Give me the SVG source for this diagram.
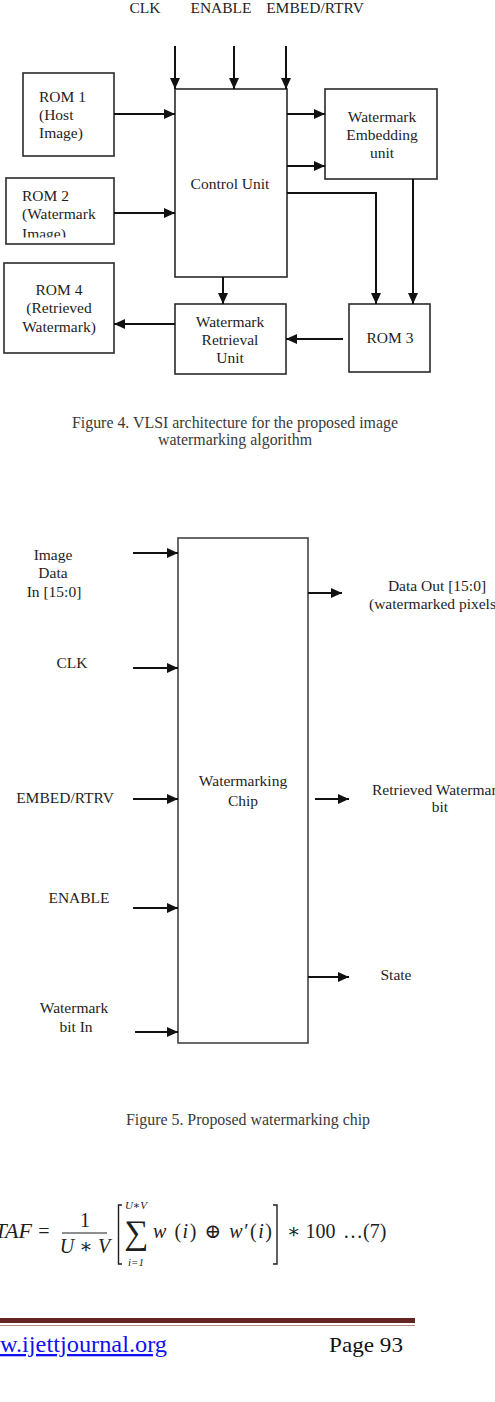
<svg xmlns="http://www.w3.org/2000/svg" width="495" height="1402" viewBox="0 0 495 1402">
<style>
.t{font-family:"Liberation Serif","Times New Roman",serif;font-size:15.5px;fill:#1e1e1e}
.c{font-family:"Liberation Serif","Times New Roman",serif;font-size:16px;fill:#3a3a3a}
.m{font-family:"Liberation Serif","DejaVu Serif",serif;font-size:20px;fill:#1e1e1e}
.i{font-style:italic}
.box{fill:#fff;stroke:#2a2a2a;stroke-width:1.6}
.chip{fill:#fff;stroke:#444;stroke-width:1.6}
.ln{fill:none;stroke:#111;stroke-width:2}
.mid{text-anchor:middle}
</style>
<defs>
<marker id="ah" markerUnits="userSpaceOnUse" markerWidth="12" markerHeight="11" refX="11" refY="5" orient="auto">
<path d="M0,0 L11,5 L0,10 z" fill="#111"/>
</marker>
<clipPath id="rom2clip"><rect x="6" y="178" width="108" height="59.5"/></clipPath>
</defs>
<rect width="495" height="1402" fill="#fff"/>

<!-- Figure 4 -->
<g id="top-labels">
<text class="t mid" x="145" y="13">CLK</text>
<text class="t mid" x="221" y="13">ENABLE</text>
<text class="t mid" x="315" y="13">EMBED/RTRV</text>
</g>
<g id="rom1"><rect class="box" x="23" y="73" width="91" height="83"/>
<text class="t" x="39" y="102">ROM 1</text><text class="t" x="39" y="120">(Host</text><text class="t" x="39" y="138">Image)</text></g>
<g id="rom2"><rect class="box" x="6" y="178" width="108" height="66"/>
<g clip-path="url(#rom2clip)"><text class="t" x="22" y="201">ROM 2</text><text class="t" x="22" y="219">(Watermark</text><text class="t" x="22" y="239">Image)</text></g></g>
<g id="rom4"><rect class="box" x="4" y="263" width="110" height="90"/>
<text class="t mid" x="59" y="295">ROM 4</text><text class="t mid" x="59" y="313">(Retrieved</text><text class="t mid" x="59" y="332">Watermark)</text></g>
<g id="control-unit"><rect class="box" x="175" y="89" width="112" height="188"/>
<text class="t mid" x="230" y="189">Control Unit</text></g>
<g id="embedding-unit"><rect class="box" x="325" y="89" width="112" height="90"/>
<text class="t mid" x="382" y="122">Watermark</text><text class="t mid" x="382" y="140">Embedding</text><text class="t mid" x="382" y="158">unit</text></g>
<g id="retrieval-unit"><rect class="box" x="175" y="304" width="111" height="70"/>
<text class="t mid" x="230" y="327">Watermark</text><text class="t mid" x="230" y="345">Retrieval</text><text class="t mid" x="230" y="363">Unit</text></g>
<g id="rom3"><rect class="box" x="349" y="304" width="81" height="68"/>
<text class="t mid" x="390" y="343">ROM 3</text></g>

<g id="connectors-fig4">
<line class="ln" x1="175" y1="46" x2="175" y2="89" marker-end="url(#ah)"/>
<line class="ln" x1="234" y1="46" x2="234" y2="89" marker-end="url(#ah)"/>
<line class="ln" x1="286" y1="46" x2="286" y2="89" marker-end="url(#ah)"/>
<line class="ln" x1="114" y1="114" x2="175" y2="114" marker-end="url(#ah)"/>
<line class="ln" x1="114" y1="213" x2="175" y2="213" marker-end="url(#ah)"/>
<line class="ln" x1="287" y1="114" x2="325" y2="114" marker-end="url(#ah)"/>
<line class="ln" x1="287" y1="166" x2="325" y2="166" marker-end="url(#ah)"/>
<polyline class="ln" points="287,193 376,193 376,304" marker-end="url(#ah)"/>
<line class="ln" x1="413" y1="179" x2="413" y2="304" marker-end="url(#ah)"/>
<line class="ln" x1="223" y1="277" x2="223" y2="304" marker-end="url(#ah)"/>
<line class="ln" x1="175" y1="324" x2="114" y2="324" marker-end="url(#ah)"/>
<line class="ln" x1="343" y1="339" x2="286" y2="339" marker-end="url(#ah)"/>
</g>

<g id="caption4">
<text class="c mid" x="235" y="428" textLength="326" lengthAdjust="spacingAndGlyphs">Figure 4. VLSI architecture for the proposed image</text>
<text class="c mid" x="235" y="445" textLength="154" lengthAdjust="spacingAndGlyphs">watermarking algorithm</text>
</g>

<!-- Figure 5 -->
<g id="chip"><rect class="chip" x="178" y="538" width="130" height="505"/>
<text class="t mid" x="243" y="786">Watermarking</text><text class="t mid" x="243" y="806">Chip</text></g>
<g id="in-image-data"><text class="t mid" x="53" y="560">Image</text><text class="t mid" x="53" y="578">Data</text><text class="t mid" x="54" y="597">In [15:0]</text></g>
<g id="in-clk"><text class="t mid" x="72" y="668">CLK</text></g>
<g id="in-embed"><text class="t mid" x="65" y="803">EMBED/RTRV</text></g>
<g id="in-enable"><text class="t mid" x="79" y="903">ENABLE</text></g>
<g id="in-wm-bit"><text class="t mid" x="74" y="1013">Watermark</text><text class="t mid" x="76" y="1032">bit In</text></g>
<g id="out-data"><text class="t mid" x="437" y="591">Data Out [15:0]</text><text class="t" x="369" y="609">(watermarked pixels)</text></g>
<g id="out-retrieved"><text class="t" x="372" y="795">Retrieved Watermark</text><text class="t mid" x="440" y="812">bit</text></g>
<g id="out-state"><text class="t mid" x="396" y="980">State</text></g>

<g id="connectors-fig5">
<line class="ln" x1="133" y1="553" x2="178" y2="553" marker-end="url(#ah)"/>
<line class="ln" x1="133" y1="668" x2="178" y2="668" marker-end="url(#ah)"/>
<line class="ln" x1="133" y1="799" x2="178" y2="799" marker-end="url(#ah)"/>
<line class="ln" x1="133" y1="908" x2="178" y2="908" marker-end="url(#ah)"/>
<line class="ln" x1="135" y1="1032" x2="178" y2="1032" marker-end="url(#ah)"/>
<line class="ln" x1="308" y1="593" x2="342" y2="593" marker-end="url(#ah)"/>
<line class="ln" x1="315" y1="799" x2="349" y2="799" marker-end="url(#ah)"/>
<line class="ln" x1="308" y1="977" x2="349" y2="977" marker-end="url(#ah)"/>
</g>

<g id="caption5">
<text class="c mid" x="248" y="1125" textLength="244" lengthAdjust="spacingAndGlyphs">Figure 5. Proposed watermarking chip</text>
</g>

<!-- Formula -->
<g id="formula">
<text class="m i" x="32" y="1238" text-anchor="end" style="font-size:22px">TAF</text>
<text class="m mid" x="44" y="1238">=</text>
<text class="m mid" x="85" y="1227">1</text>
<line x1="62" y1="1233" x2="107" y2="1233" stroke="#1e1e1e" stroke-width="1.2"/>
<text class="m i mid" x="85" y="1253">U ∗ V</text>
<polyline points="122,1205 118.5,1205 118.5,1264 122,1264" fill="none" stroke="#1e1e1e" stroke-width="1.4"/>
<text class="m mid" x="136" y="1244" style="font-size:34px">∑</text>
<text class="m i mid" x="136" y="1209" style="font-size:11px">U∗V</text>
<text class="m i mid" x="136" y="1266" style="font-size:11px">i=1</text>
<text class="m" x="153" y="1238" textLength="119" lengthAdjust="spacing"><tspan class="i">w</tspan> (<tspan class="i">i</tspan>) ⊕  <tspan class="i">w</tspan>′(<tspan class="i">i</tspan>)</text>
<polyline points="273,1205 277,1205 277,1264 273,1264" fill="none" stroke="#1e1e1e" stroke-width="1.4"/>
<text class="m" x="287" y="1238">∗ 100</text>
<text class="m" x="343" y="1238">…(7)</text>
</g>

<!-- Footer -->
<g id="footer">
<rect x="0" y="1318" width="415" height="5" fill="#632523"/>
<rect x="0" y="1325" width="415" height="1" fill="#b98c86"/>
<text x="0" y="1352" textLength="167" lengthAdjust="spacingAndGlyphs" style="font-family:'Liberation Serif',serif;font-size:23px;fill:#1010ee;text-decoration:underline">w.ijettjournal.org</text>
<text x="329" y="1352" textLength="74" lengthAdjust="spacingAndGlyphs" style="font-family:'Liberation Serif',serif;font-size:22px;fill:#111">Page 93</text>
</g>
</svg>
